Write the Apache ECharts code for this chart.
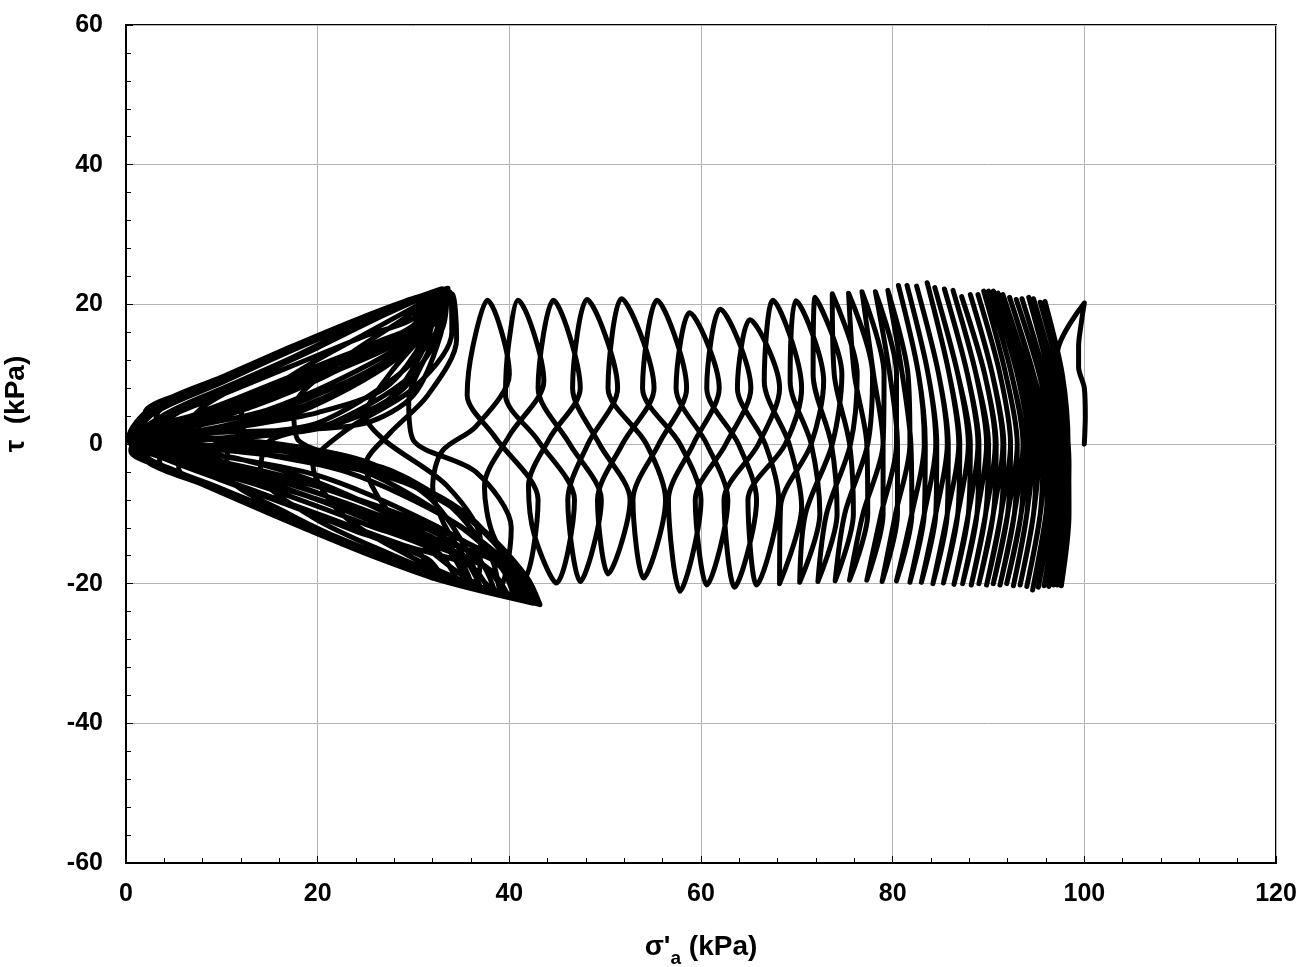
<!DOCTYPE html>
<html>
<head>
<meta charset="utf-8">
<script src="https://cdn.jsdelivr.net/npm/echarts@6/dist/echarts.min.js"></script>
<style>
  html, body { margin: 0; padding: 0; background: #fff; }
  #chart { width: 1303px; height: 967px; }
</style>
</head>
<body>
<div id="chart"></div>
<script>
// Undrained cyclic test: effective axial stress (kPa) vs shear stress (kPa)
// Stress path stored as [sigma'a, tau] pairs, in test order.

// Initial shear loading at sigma'a = 100 kPa
const initialLoad = [
  [100.0, 0], [100.1, 4], [100.0, 8], [99.4, 11], [99.4, 14], [99.7, 17.5], [100.0, 20.2]
];

// Early cycles: slow decay of sigma'a from 100 kPa to about 45 kPa
const cyclicDecay = [
  [97.2, 13], [98.0, 5], [98.4, -3], [98.2, -11], [97.6, -20.3],
  [98.4, -10], [98.3, 0], [97.7, 9], [95.9, 20.4],
  [97.7, 10], [98.3, 0], [98.1, -10], [97.2, -20.2],
  [98.1, -10], [98.1, 0], [97.3, 10], [95.4, 20.3],
  [97.3, 10], [98.1, 0], [97.8, -10], [96.8, -20.2],
  [97.8, -10], [97.9, 0], [96.8, 10], [94.7, 20.8],
  [96.8, 10], [97.8, 0], [97.4, -10], [96.3, -20.4],
  [97.4, -10], [97.6, 0], [96.3, 10], [94.2, 21.0],
  [96.3, 10], [97.5, 0], [97.0, -10], [95.8, -20.3],
  [97.0, -10], [97.2, 0], [95.8, 10], [93.5, 20.8],
  [95.8, 10], [97.1, 0], [96.5, -10], [95.2, -20.5],
  [96.5, -10], [96.8, 0], [95.3, 10], [92.9, 20.7],
  [95.3, 10], [96.6, 0], [96.0, -10], [94.6, -20.9],
  [96.0, -10], [96.3, 0], [94.7, 10], [92.2, 21.0],
  [94.6, 10], [96.0, 0], [95.4, -10], [94.0, -20.4],
  [95.4, -10], [95.7, 0], [94.1, 10], [91.5, 21.4],
  [94.0, 10], [95.3, 0], [94.7, -10], [93.3, -20.2],
  [94.7, -10], [95.0, 0], [93.5, 10], [91.0, 21.6],
  [93.5, 10], [94.7, 0], [94.0, -10], [92.6, -20.3],
  [94.0, -10], [94.4, 0], [93.0, 10], [90.5, 21.9],
  [93.0, 10], [94.2, 0], [93.4, -10], [91.9, -20.0],
  [93.4, -10], [93.7, 0], [92.4, 10], [90.0, 21.9],
  [92.4, 10], [93.6, 0], [92.7, -10], [91.2, -20.2],
  [92.7, -10], [93.0, 0], [91.8, 10], [89.5, 21.9],
  [91.8, 10], [93.0, 0], [92.0, -10], [90.5, -20.0],
  [92.0, -10], [92.3, 0], [91.2, 10], [88.9, 21.4],
  [91.2, 10], [92.3, 0], [91.3, -10], [89.8, -20.2],
  [91.3, -10], [91.6, 0], [90.4, 10], [88.1, 21.4],
  [90.4, 10], [91.5, 0], [90.5, -10], [89.0, -20.0],
  [90.5, -10], [90.8, 0], [89.6, 10], [87.2, 21.1],
  [89.6, 10], [90.7, 0], [89.7, -10], [88.2, -20.2],
  [89.7, -10], [90.0, 0], [88.7, 10], [86.3, 22.0],
  [88.7, 10], [89.8, 0], [88.8, -10], [87.3, -20.0],
  [88.8, -10], [89.0, 0], [87.8, 10], [85.4, 22.2],
  [87.8, 10], [88.9, 0], [87.9, -10], [86.4, -20.1],
  [87.9, -10], [88.1, 0], [86.8, 10], [84.4, 22.4],
  [86.8, 10], [87.9, 0], [86.8, -10], [85.3, -19.9],
  [86.8, -10], [87.0, 0], [85.9, 10], [83.6, 23.1],
  [85.9, 10], [86.9, 0], [85.7, -10], [84.2, -20.0],
  [85.7, -10], [85.8, 0], [84.8, 10], [82.5, 22.6],
  [84.8, 10], [85.7, 0], [84.5, -10], [83.0, -19.8],
  [84.5, -10], [84.6, 0], [83.7, 10], [81.5, 22.7],
  [83.7, 10], [84.5, 0], [83.3, -10], [81.8, -19.8],
  [83.3, -10], [83.4, 0], [82.7, 10], [80.6, 22.7],
  [82.7, 10], [83.3, 0], [82.0, -10], [80.4, -19.6],
  [82.0, -10], [81.9, 0], [81.0, 10], [79.5, 22.0],
  [81.6, 10], [81.8, 0], [80.3, -10], [78.9, -19.7],
  [80.5, -10], [80.5, 0], [79.7, 10], [78.2, 21.8],
  [80.4, 10], [80.4, 0], [78.8, -10], [77.3, -19.5],
  [79.0, -10], [79.0, 0], [78.0, 10], [76.8, 21.8],
  [79.1, 10], [79.0, 0], [76.9, -10], [75.5, -19.5],
  [77.4, -10], [77.3, 0], [76.0, 10], [75.4, 21.6],
  [77.9, 10], [77.4, 0], [75.0, -10], [74.0, -19.6],
  [75.9, -10], [75.5, 0], [73.9, 10], [73.7, 21.5],
  [76.3, 10], [75.6, 0], [73.1, -10], [72.2, -19.7],
  [74.2, -10], [73.6, 0], [71.7, 10], [71.9, 21.0],
  [74.7, 10], [73.7, 0], [70.9, -10], [70.3, -19.8],
  [72.4, -10], [71.5, 0], [69.3, 9], [69.9, 20.5],
  [72.8, 9], [71.5, 0], [68.3, -9], [68.2, -20.0],
  [70.5, -9], [69.2, 0], [66.6, 9], [67.5, 20.6],
  [70.5, 8], [68.8, 0], [64.9, -8], [65.8, -20.2],
  [68.1, -8], [66.7, 0], [63.8, 8], [65.1, 17.8],
  [68.2, 8], [66.0, 0], [62.4, -8], [63.5, -20.5],
  [65.8, -8], [63.9, 0], [60.6, 8], [62.0, 19.3],
  [65.2, 8], [62.6, 0], [59.4, -8], [60.6, -20.2],
  [62.8, -8], [60.6, 0], [57.4, 8], [58.8, 18.8],
  [61.9, 8], [59.2, 0], [56.6, -8], [57.8, -21.1],
  [60.0, -8], [57.8, 0], [53.9, 8], [55.4, 20.6],
  [58.5, 8], [55.6, 0], [52.9, -8], [54.0, -19.2],
  [56.3, -8], [54.3, 0], [50.3, 8], [51.7, 20.8],
  [55.1, 8], [51.8, 0], [49.2, -8], [50.3, -18.6],
  [52.6, -8], [49.4, 0], [46.6, 8], [48.1, 20.7],
  [51.3, 8], [48.2, 0], [46.1, -8], [47.4, -19.7],
  [49.6, -8], [46.3, 0], [43.0, 8], [44.6, 20.6]
];

// Onset of cyclic mobility: zero-shear crossings move towards the origin
const transitionCycles = [
  [47.4, 8], [44.2, 0.8], [42.0, -6], [42.6, -13], [44.9, -19.9],
  [46.8, -8], [43.0, 0.5], [39.6, 7], [39.9, 14], [40.9, 20.6],
  [43.6, 9], [40.0, 1.2], [37.4, -6], [38.3, -13], [41.4, -19.5],
  [43.0, -8], [38.5, 1], [35.6, 7], [36.2, 14], [37.7, 20.6],
  [40.0, 10], [36.5, 2.5], [33.0, -1], [32.0, -6], [33.8, -13], [38.7, -21.0],
  [40.2, -12], [36.5, -4], [30.0, 0.5], [29.5, 6], [31.8, 14], [34.0, 21.5],
  [34.5, 15], [31.5, 7], [27.5, 1.5], [25.0, -3], [27.0, -9], [31.5, -15], [36.5, -19.8],
  [37.0, -14], [33.5, -6], [27.0, 0.5], [25.0, 4], [27.5, 10], [31.5, 16.5], [33.8, 21.8],
  [34.0, 16], [30.0, 8], [23.0, 2], [19.5, -3], [22.5, -10], [29.5, -16], [36.5, -20.3], [43.2, -23.0],
  [41.8, -19], [37.0, -12], [28.0, -4], [18.0, 0.5], [17.5, 5], [22.5, 12], [28.5, 17.5], [33.5, 22.1],
  [33.0, 16.5], [29.5, 9.5], [21.5, 3], [15.0, 0.5], [14.0, -4], [19.5, -10.5], [28.0, -16], [34.5, -19.5], [41.0, -21.8],
  [39.8, -18], [34.5, -11.5], [25.0, -4], [13.0, 0.5], [12.0, 4], [17.5, 10], [25.0, 15.8], [33.3, 22.0]
];

// Butterfly loops through the origin
const butterflyCycles = [
  [32.8, 17], [28.5, 10], [20.0, 3], [11.0, 0.5], [10.5, -4], [17.0, -10], [27.0, -16.2], [35.0, -19.8], [42.0, -22.4],
  [40.5, -18], [34.0, -11], [23.0, -4], [10.0, 0], [7.0, 3.5], [12.0, 8.5], [20.0, 13.8], [27.0, 18.5], [33.0, 22.2],
  [32.0, 17.5], [27.0, 11], [17.0, 4], [6.0, 0.5], [5.5, -3.5], [11.0, -7], [18.0, -11], [25.0, -15.2], [32.0, -19], [40.5, -21.9],
  [39.0, -17.5], [32.0, -11.5], [20.0, -4.5], [6.0, -0.5], [3.5, 2], [8.0, 6.5], [16.0, 11.5], [24.0, 16.8], [32.6, 22.0],
  [31.5, 17], [25.5, 11.5], [15.0, 5], [4.0, 1], [3.5, -2.5], [9.0, -6], [17.0, -10.5], [25.0, -15], [31.5, -18.6], [38.5, -21.2],
  [36.8, -16.5], [29.5, -11], [17.5, -5], [4.0, -0.5], [2.0, 2], [6.5, 5.5], [14.5, 10.5], [23.0, 16], [32.2, 21.8],
  [30.8, 16.5], [23.5, 11.5], [12.0, 5.5], [2.5, 1], [2.0, -1.5], [7.0, -5], [15.0, -9.5], [23.0, -14.2], [30.0, -18], [37.0, -20.8], [43.0, -22.8],
  [41.0, -18.5], [33.0, -12.5], [21.0, -6.5], [8.0, -1.8], [1.5, 0.5], [4.0, 4.2], [11.0, 8.5], [20.0, 14], [27.0, 18.5], [31.8, 21.6],
  [30.0, 16], [22.0, 10.5], [10.0, 4], [2.0, 1], [1.5, -1.2], [6.0, -4.5], [14.0, -9], [22.0, -13.8], [29.0, -17.5], [36.0, -19.8],
  [34.0, -15], [26.0, -10], [14.0, -4.5], [3.0, -0.8], [1.0, 1], [3.0, 4.5], [10.0, 8.8], [17.0, 13.2], [25.0, 17.8], [33.2, 22.0],
  [31.8, 17.5], [26.0, 13], [16.0, 7.5], [5.0, 2.5], [0.8, 0], [3.5, -3], [10.0, -6.5], [17.0, -10.8], [24.0, -14.8], [31.0, -18.5], [41.5, -22.4],
  [39.5, -17.5], [31.0, -13], [19.0, -7.5], [6.0, -2.5], [0.5, 0.5], [2.5, 4.8], [9.0, 8.8], [16.0, 13], [23.0, 17], [32.0, 21.7],
  [30.5, 16.5], [23.0, 12], [13.0, 6.5], [3.5, 2], [0.8, -0.5], [4.0, -3.2], [10.0, -6.4], [17.0, -10.5], [24.0, -14.5], [34.5, -19.3],
  [32.5, -15.5], [25.0, -11.5], [14.0, -6], [3.0, -1.5], [0.3, 1], [2.5, 5], [9.5, 9], [16.5, 13.3], [23.5, 17.5], [31.4, 21.5],
  [30.0, 17], [24.0, 13.2], [15.0, 8.2], [6.0, 3.5], [0.8, 0.8], [1.2, -1.5], [4.8, -3.8], [10.0, -6.5], [17.0, -10.8], [24.0, -15], [32.0, -19.2],
  [30.5, -15.5], [24.0, -12.5], [15.0, -7.5], [5.0, -2.5], [0.3, 0.5], [2.8, 5.2], [9.8, 9.1], [16.8, 13.4], [23.4, 17.4], [28.0, 19.9], [33.0, 22.1],
  [31.5, 17.8], [26.0, 14.5], [18.0, 9.5], [8.0, 4.5], [1.5, 1.8], [0.5, -1], [4.6, -3.7], [9.8, -6.3], [16.8, -10.5], [23.4, -14.6], [28.6, -17.4], [33.8, -19.6], [39.5, -21.6],
  [37.5, -17.5], [30.0, -13.5], [20.0, -8], [9.0, -3], [2.0, -0.5], [0.4, 1.2], [3.0, 5.0], [9.8, 8.9], [16.8, 13.2], [23.4, 17.2], [32.4, 21.9],
  [31.0, 17.5], [27.0, 15.0], [20.0, 11.2], [12.0, 6.8], [5.0, 3.0], [1.0, 0.5], [1.5, -1.8], [5.5, -4.2], [11.0, -7.0], [18.0, -11.0], [25.5, -15.5], [33.2, -19.4],
  [31.5, -16.5], [27.0, -14], [19.0, -9.8], [10.0, -5.2], [3.5, -1.8], [0.5, 0.2], [1.5, 3.5], [6.0, 6.8], [12.0, 10.5], [19.0, 14.5], [26.0, 18.5], [31.6, 21.5],
  [30.0, 18], [25.0, 15.5], [17.0, 11], [9.0, 6.5], [3.0, 3], [0.6, 0.5], [2.0, -2.2], [7.0, -5.2], [14.0, -9], [21.0, -13.2], [29.0, -17.5], [38.0, -21.2],
  [36.0, -17.5], [29.0, -14.5], [20.0, -10], [11.0, -5.5], [4.0, -2], [0.4, 0.5], [2.0, 4.2], [7.5, 7.8], [14.0, 11.8], [21.0, 16], [28.0, 19.8], [32.9, 22.2],
  [31.0, 16], [26.0, 11], [19.0, 6.5], [12.0, 3.2], [5.0, 1.2], [1.0, 0], [2.5, -2.8], [8.0, -5.8], [15.0, -9.8], [22.0, -13.8], [29.0, -17.2], [35.5, -19.6],
  [33.5, -15], [28.0, -10.5], [20.0, -5.5], [12.0, -2.2], [5.0, -0.6], [1.0, 0.5], [2.5, 4.5], [8.5, 8.3], [15.5, 12.5], [22.5, 16.8], [32.0, 21.6],
  [30.8, 17.5], [26.5, 14], [20.5, 9.5], [13.5, 5.5], [6.5, 2.5], [1.2, 0.3], [2.0, -2.0], [6.5, -4.8], [13.0, -8.5], [20.0, -12.5], [27.0, -16.5], [33.5, -19.5], [40.0, -22.0],
  [38.0, -18], [32.0, -14.5], [25.0, -10.5], [17.0, -6.5], [9.0, -3], [2.5, -0.5], [0.6, 1.5], [3.5, 5.8], [10.0, 9.6], [17.0, 13.8], [24.0, 17.8], [29.0, 20.4], [33.6, 22.3],
  [32.0, 17], [28.0, 12.5], [22.0, 7.5], [15.0, 3.8], [8.0, 1.5], [2.0, 0.2], [1.0, -1.5], [4.5, -3.6], [10.0, -6.8], [17.0, -10.8], [24.0, -14.8], [30.0, -18], [37.0, -20.5],
  [35.0, -16], [28.0, -11.5], [19.0, -6.5], [10.0, -2.5], [3.0, -0.5], [0.5, 0.8], [2.0, 4.0], [8.0, 7.8], [15.0, 12.0], [22.0, 16.2], [28.5, 19.8], [33.0, 22.0],
  [32.5, 16], [29.0, 8], [23.0, 3.5], [15.0, 1.5], [7.0, 0.5], [1.5, -0.5], [3.0, -2.8], [8.5, -5.6], [15.0, -9.4], [22.0, -13.5], [29.0, -17], [35.5, -20], [41.8, -22.5],
  [40.5, -18], [35.5, -10], [28.0, -4.5], [19.0, -1.5], [10.0, -0.3], [2.5, 0.5], [1.2, 2.5], [5.0, 6.2], [11.0, 9.8], [18.0, 14.0], [25.0, 18.0], [32.3, 21.9],
  [31.5, 15], [27.5, 6.5], [21.0, 2.5], [13.0, 1.0], [5.0, 0.3], [1.0, -0.8], [3.5, -3.3], [9.0, -6.2], [16.0, -10.2], [23.0, -14.3], [30.0, -18], [39.0, -21.3],
  [38.0, -16], [33.5, -8.5], [27.0, -3.5], [18.0, -0.8], [9.0, 0.6], [3.0, 1.5], [3.5, 4.8], [9.0, 8.6], [16.0, 12.8], [23.0, 17.0], [29.0, 20.3], [33.4, 22.1],
  [32.8, 15.5], [30.0, 7], [25.0, 3], [17.0, 2.0], [9.0, 1.6], [2.5, 0.6], [1.5, -1.2], [5.5, -4.0], [12.0, -7.8], [19.0, -11.8], [27.0, -16.2], [36.8, -20.3],
  [35.5, -15], [31.5, -7.5], [25.0, -2.5], [17.0, -0.2], [8.0, 1.0], [2.0, 1.8], [2.0, 4.5], [7.0, 7.8], [13.5, 11.5], [20.5, 15.6], [26.5, 19.0], [31.9, 21.7],
  [31.0, 15], [27.0, 8], [20.0, 4.5], [12.0, 2.5], [5.0, 1.0], [1.0, -0.3], [2.0, -2.2], [6.0, -4.6], [12.0, -8.2], [19.0, -12.3], [26.0, -16.2], [33.0, -19.6], [42.5, -22.8],
  [41.0, -18.5], [36.0, -11], [29.0, -5.5], [20.0, -2.5], [11.0, -1.0], [4.0, -0.2], [0.8, 0.6]
];

const xTitle = "σ'";
const xTitleSub = 'a';
const xTitleUnit = ' (kPa)';
const yTitle = 'τ  (kPa)';

const stressPath = initialLoad.concat(cyclicDecay, transitionCycles, butterflyCycles);

const fontFamily = 'Liberation Sans, Arial, sans-serif';
const labelFont = { fontFamily: fontFamily, fontWeight: 'bold', fontSize: 25, color: '#000' };

const chart = echarts.init(document.getElementById('chart'), null, { renderer: 'canvas' });

chart.setOption({
  animation: false,
  backgroundColor: '#fff',
  grid: {
    left: 126, right: 27, top: 25, bottom: 104,
    containLabel: false,
    outerBoundsMode: 'none',
    show: true, borderColor: '#000', borderWidth: 2, backgroundColor: 'transparent'
  },
  xAxis: {
    type: 'value', min: 0, max: 120, interval: 20,
    axisLine: { show: true, onZero: false, lineStyle: { color: '#000', width: 2 } },
    axisTick: { show: true, inside: true, length: 7, lineStyle: { color: '#000', width: 1 } },
    minorTick: { show: true, splitNumber: 5, length: 5, lineStyle: { color: '#000', width: 1 } },
    splitLine: { show: true, lineStyle: { color: '#b4b4b4', width: 1 } },
    axisLabel: Object.assign({ margin: 19 }, labelFont),
    name: '{m|' + xTitle + '}{s|' + xTitleSub + '}{m|' + xTitleUnit + '}',
    nameLocation: 'middle',
    nameGap: 70,
    nameTextStyle: {
      rich: {
        m: { fontFamily: fontFamily, fontWeight: 'bold', fontSize: 28, color: '#000', verticalAlign: 'bottom', padding: [0, 0, 7, 0] },
        s: { fontFamily: fontFamily, fontWeight: 'bold', fontSize: 19, color: '#000', verticalAlign: 'bottom' }
      }
    }
  },
  yAxis: {
    type: 'value', min: -60, max: 60, interval: 20,
    axisLine: { show: true, onZero: false, lineStyle: { color: '#000', width: 2 } },
    axisTick: { show: true, inside: true, length: 7, lineStyle: { color: '#000', width: 1 } },
    minorTick: { show: true, splitNumber: 5, length: 5, lineStyle: { color: '#000', width: 1 } },
    splitLine: { show: true, lineStyle: { color: '#b4b4b4', width: 1 } },
    axisLabel: Object.assign({ margin: 23 }, labelFont),
    name: yTitle,
    nameLocation: 'middle',
    nameGap: 96,
    nameTextStyle: { fontFamily: fontFamily, fontWeight: 'bold', fontSize: 28, color: '#000', padding: [0, 0, 0, 80] }
  },
  series: [{
    type: 'line',
    data: stressPath,
    smooth: 0.3,
    showSymbol: false,
    clip: true,
    lineStyle: { color: '#000', width: 5, join: 'round', cap: 'round' }
  }]
});
</script>
</body>
</html>
